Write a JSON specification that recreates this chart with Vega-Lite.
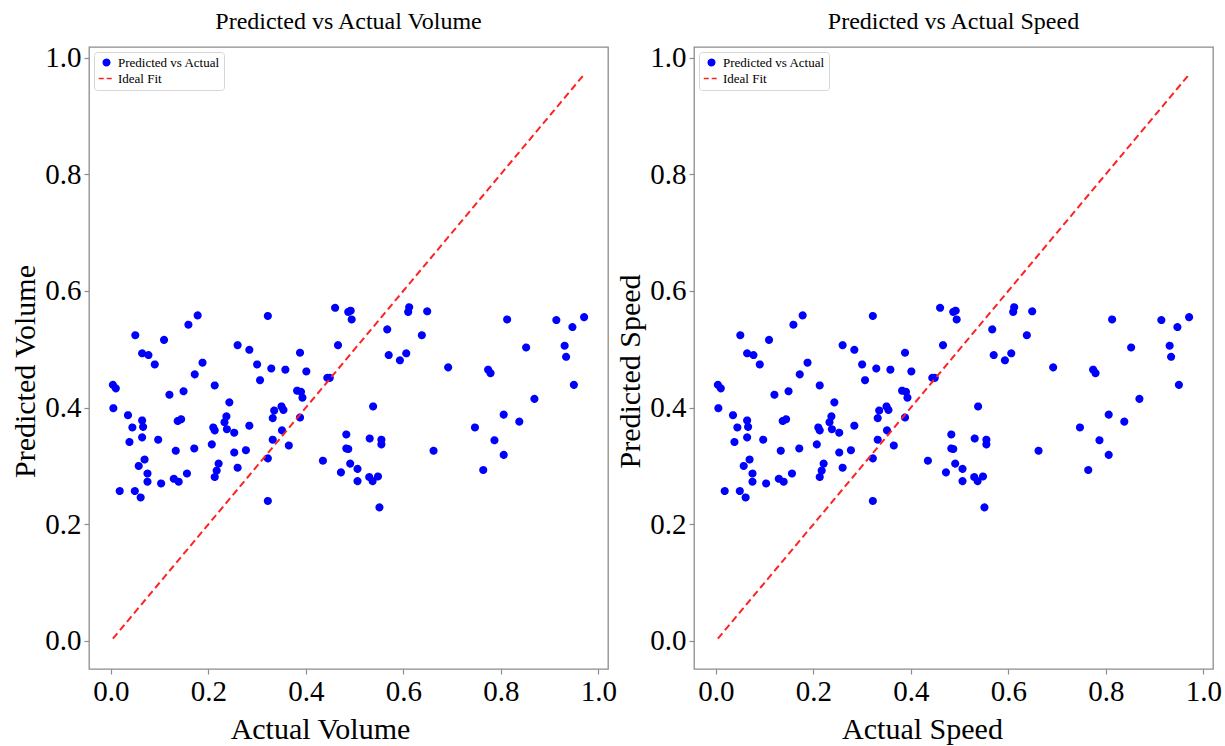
{
  "$schema": "https://vega.github.io/schema/vega-lite/v6.json",
  "background": "white",
  "padding": {"left": 10, "top": 8, "right": 5, "bottom": 5},
  "spacing": 86,
  "bounds": "flush",
  "datasets": {
    "pts": [
      {"actual": 0.178, "predicted": 0.558, "series": "Predicted vs Actual"},
      {"actual": 0.159, "predicted": 0.542, "series": "Predicted vs Actual"},
      {"actual": 0.050, "predicted": 0.524, "series": "Predicted vs Actual"},
      {"actual": 0.109, "predicted": 0.516, "series": "Predicted vs Actual"},
      {"actual": 0.064, "predicted": 0.493, "series": "Predicted vs Actual"},
      {"actual": 0.077, "predicted": 0.490, "series": "Predicted vs Actual"},
      {"actual": 0.090, "predicted": 0.474, "series": "Predicted vs Actual"},
      {"actual": 0.188, "predicted": 0.477, "series": "Predicted vs Actual"},
      {"actual": 0.172, "predicted": 0.457, "series": "Predicted vs Actual"},
      {"actual": 0.004, "predicted": 0.439, "series": "Predicted vs Actual"},
      {"actual": 0.010, "predicted": 0.433, "series": "Predicted vs Actual"},
      {"actual": 0.120, "predicted": 0.422, "series": "Predicted vs Actual"},
      {"actual": 0.149, "predicted": 0.428, "series": "Predicted vs Actual"},
      {"actual": 0.213, "predicted": 0.438, "series": "Predicted vs Actual"},
      {"actual": 0.005, "predicted": 0.399, "series": "Predicted vs Actual"},
      {"actual": 0.035, "predicted": 0.387, "series": "Predicted vs Actual"},
      {"actual": 0.064, "predicted": 0.378, "series": "Predicted vs Actual"},
      {"actual": 0.044, "predicted": 0.366, "series": "Predicted vs Actual"},
      {"actual": 0.066, "predicted": 0.367, "series": "Predicted vs Actual"},
      {"actual": 0.038, "predicted": 0.341, "series": "Predicted vs Actual"},
      {"actual": 0.064, "predicted": 0.349, "series": "Predicted vs Actual"},
      {"actual": 0.097, "predicted": 0.345, "series": "Predicted vs Actual"},
      {"actual": 0.137, "predicted": 0.377, "series": "Predicted vs Actual"},
      {"actual": 0.144, "predicted": 0.380, "series": "Predicted vs Actual"},
      {"actual": 0.243, "predicted": 0.409, "series": "Predicted vs Actual"},
      {"actual": 0.237, "predicted": 0.385, "series": "Predicted vs Actual"},
      {"actual": 0.233, "predicted": 0.375, "series": "Predicted vs Actual"},
      {"actual": 0.238, "predicted": 0.363, "series": "Predicted vs Actual"},
      {"actual": 0.210, "predicted": 0.366, "series": "Predicted vs Actual"},
      {"actual": 0.213, "predicted": 0.361, "series": "Predicted vs Actual"},
      {"actual": 0.253, "predicted": 0.357, "series": "Predicted vs Actual"},
      {"actual": 0.284, "predicted": 0.369, "series": "Predicted vs Actual"},
      {"actual": 0.207, "predicted": 0.337, "series": "Predicted vs Actual"},
      {"actual": 0.171, "predicted": 0.330, "series": "Predicted vs Actual"},
      {"actual": 0.133, "predicted": 0.326, "series": "Predicted vs Actual"},
      {"actual": 0.253, "predicted": 0.323, "series": "Predicted vs Actual"},
      {"actual": 0.277, "predicted": 0.327, "series": "Predicted vs Actual"},
      {"actual": 0.069, "predicted": 0.311, "series": "Predicted vs Actual"},
      {"actual": 0.057, "predicted": 0.300, "series": "Predicted vs Actual"},
      {"actual": 0.075, "predicted": 0.287, "series": "Predicted vs Actual"},
      {"actual": 0.075, "predicted": 0.273, "series": "Predicted vs Actual"},
      {"actual": 0.103, "predicted": 0.270, "series": "Predicted vs Actual"},
      {"actual": 0.129, "predicted": 0.278, "series": "Predicted vs Actual"},
      {"actual": 0.139, "predicted": 0.273, "series": "Predicted vs Actual"},
      {"actual": 0.156, "predicted": 0.287, "series": "Predicted vs Actual"},
      {"actual": 0.221, "predicted": 0.304, "series": "Predicted vs Actual"},
      {"actual": 0.217, "predicted": 0.292, "series": "Predicted vs Actual"},
      {"actual": 0.213, "predicted": 0.281, "series": "Predicted vs Actual"},
      {"actual": 0.260, "predicted": 0.297, "series": "Predicted vs Actual"},
      {"actual": 0.018, "predicted": 0.257, "series": "Predicted vs Actual"},
      {"actual": 0.049, "predicted": 0.257, "series": "Predicted vs Actual"},
      {"actual": 0.061, "predicted": 0.246, "series": "Predicted vs Actual"},
      {"actual": 0.260, "predicted": 0.507, "series": "Predicted vs Actual"},
      {"actual": 0.284, "predicted": 0.499, "series": "Predicted vs Actual"},
      {"actual": 0.300, "predicted": 0.474, "series": "Predicted vs Actual"},
      {"actual": 0.306, "predicted": 0.447, "series": "Predicted vs Actual"},
      {"actual": 0.322, "predicted": 0.557, "series": "Predicted vs Actual"},
      {"actual": 0.460, "predicted": 0.571, "series": "Predicted vs Actual"},
      {"actual": 0.487, "predicted": 0.564, "series": "Predicted vs Actual"},
      {"actual": 0.492, "predicted": 0.566, "series": "Predicted vs Actual"},
      {"actual": 0.494, "predicted": 0.551, "series": "Predicted vs Actual"},
      {"actual": 0.612, "predicted": 0.572, "series": "Predicted vs Actual"},
      {"actual": 0.610, "predicted": 0.564, "series": "Predicted vs Actual"},
      {"actual": 0.649, "predicted": 0.565, "series": "Predicted vs Actual"},
      {"actual": 0.567, "predicted": 0.534, "series": "Predicted vs Actual"},
      {"actual": 0.638, "predicted": 0.524, "series": "Predicted vs Actual"},
      {"actual": 0.388, "predicted": 0.494, "series": "Predicted vs Actual"},
      {"actual": 0.466, "predicted": 0.507, "series": "Predicted vs Actual"},
      {"actual": 0.570, "predicted": 0.490, "series": "Predicted vs Actual"},
      {"actual": 0.593, "predicted": 0.481, "series": "Predicted vs Actual"},
      {"actual": 0.606, "predicted": 0.493, "series": "Predicted vs Actual"},
      {"actual": 0.329, "predicted": 0.467, "series": "Predicted vs Actual"},
      {"actual": 0.358, "predicted": 0.465, "series": "Predicted vs Actual"},
      {"actual": 0.401, "predicted": 0.462, "series": "Predicted vs Actual"},
      {"actual": 0.444, "predicted": 0.451, "series": "Predicted vs Actual"},
      {"actual": 0.449, "predicted": 0.451, "series": "Predicted vs Actual"},
      {"actual": 0.382, "predicted": 0.429, "series": "Predicted vs Actual"},
      {"actual": 0.390, "predicted": 0.427, "series": "Predicted vs Actual"},
      {"actual": 0.393, "predicted": 0.417, "series": "Predicted vs Actual"},
      {"actual": 0.335, "predicted": 0.395, "series": "Predicted vs Actual"},
      {"actual": 0.350, "predicted": 0.402, "series": "Predicted vs Actual"},
      {"actual": 0.354, "predicted": 0.396, "series": "Predicted vs Actual"},
      {"actual": 0.332, "predicted": 0.382, "series": "Predicted vs Actual"},
      {"actual": 0.388, "predicted": 0.383, "series": "Predicted vs Actual"},
      {"actual": 0.351, "predicted": 0.361, "series": "Predicted vs Actual"},
      {"actual": 0.332, "predicted": 0.345, "series": "Predicted vs Actual"},
      {"actual": 0.365, "predicted": 0.335, "series": "Predicted vs Actual"},
      {"actual": 0.322, "predicted": 0.313, "series": "Predicted vs Actual"},
      {"actual": 0.322, "predicted": 0.240, "series": "Predicted vs Actual"},
      {"actual": 0.538, "predicted": 0.402, "series": "Predicted vs Actual"},
      {"actual": 0.483, "predicted": 0.354, "series": "Predicted vs Actual"},
      {"actual": 0.531, "predicted": 0.347, "series": "Predicted vs Actual"},
      {"actual": 0.555, "predicted": 0.345, "series": "Predicted vs Actual"},
      {"actual": 0.555, "predicted": 0.337, "series": "Predicted vs Actual"},
      {"actual": 0.483, "predicted": 0.330, "series": "Predicted vs Actual"},
      {"actual": 0.487, "predicted": 0.329, "series": "Predicted vs Actual"},
      {"actual": 0.435, "predicted": 0.309, "series": "Predicted vs Actual"},
      {"actual": 0.491, "predicted": 0.304, "series": "Predicted vs Actual"},
      {"actual": 0.506, "predicted": 0.295, "series": "Predicted vs Actual"},
      {"actual": 0.472, "predicted": 0.289, "series": "Predicted vs Actual"},
      {"actual": 0.506, "predicted": 0.274, "series": "Predicted vs Actual"},
      {"actual": 0.530, "predicted": 0.281, "series": "Predicted vs Actual"},
      {"actual": 0.537, "predicted": 0.274, "series": "Predicted vs Actual"},
      {"actual": 0.548, "predicted": 0.282, "series": "Predicted vs Actual"},
      {"actual": 0.551, "predicted": 0.229, "series": "Predicted vs Actual"},
      {"actual": 0.813, "predicted": 0.551, "series": "Predicted vs Actual"},
      {"actual": 0.914, "predicted": 0.550, "series": "Predicted vs Actual"},
      {"actual": 0.947, "predicted": 0.538, "series": "Predicted vs Actual"},
      {"actual": 0.971, "predicted": 0.555, "series": "Predicted vs Actual"},
      {"actual": 0.852, "predicted": 0.503, "series": "Predicted vs Actual"},
      {"actual": 0.931, "predicted": 0.506, "series": "Predicted vs Actual"},
      {"actual": 0.934, "predicted": 0.487, "series": "Predicted vs Actual"},
      {"actual": 0.692, "predicted": 0.469, "series": "Predicted vs Actual"},
      {"actual": 0.774, "predicted": 0.465, "series": "Predicted vs Actual"},
      {"actual": 0.779, "predicted": 0.459, "series": "Predicted vs Actual"},
      {"actual": 0.950, "predicted": 0.439, "series": "Predicted vs Actual"},
      {"actual": 0.869, "predicted": 0.415, "series": "Predicted vs Actual"},
      {"actual": 0.806, "predicted": 0.388, "series": "Predicted vs Actual"},
      {"actual": 0.838, "predicted": 0.376, "series": "Predicted vs Actual"},
      {"actual": 0.747, "predicted": 0.366, "series": "Predicted vs Actual"},
      {"actual": 0.787, "predicted": 0.344, "series": "Predicted vs Actual"},
      {"actual": 0.806, "predicted": 0.319, "series": "Predicted vs Actual"},
      {"actual": 0.764, "predicted": 0.293, "series": "Predicted vs Actual"},
      {"actual": 0.662, "predicted": 0.326, "series": "Predicted vs Actual"}
    ],
    "fit": [
      {"actual": 0.004, "predicted": 0.004, "series": "Ideal Fit"},
      {"actual": 0.971, "predicted": 0.971, "series": "Ideal Fit"}
    ]
  },
  "hconcat": [
    {
      "width": 519,
      "height": 622,
      "title": {"text": "Predicted vs Actual Volume"},
      "encoding": {
        "x": {"field": "actual", "type": "quantitative", "scale": {"domain": [-0.045, 1.02], "nice": false, "zero": false}, "axis": {"title": "Actual Volume", "values": [0, 0.2, 0.4, 0.6, 0.8, 1.0], "format": ".1f", "titleX": 231, "titlePadding": 8}},
        "y": {"field": "predicted", "type": "quantitative", "scale": {"domain": [-0.048, 1.018], "nice": false, "zero": false}, "axis": {"title": "Predicted Volume", "values": [0, 0.2, 0.4, 0.6, 0.8, 1.0], "format": ".1f", "titleY": 324}}
      },
      "layer": [
        {
          "data": {"name": "pts"},
          "mark": {"type": "point", "filled": true, "strokeWidth": 1.6, "opacity": 1},
          "encoding": {
            "fill": {"field": "series", "type": "nominal", "scale": {"domain": ["Predicted vs Actual", "Ideal Fit"], "range": ["#0000ff", "#ff2222"]},
              "legend": {"title": null, "orient": "top-left", "offset": 5, "fillColor": "white", "strokeColor": "#d6d6d6", "cornerRadius": 3, "padding": 4, "labelFont": "Liberation Serif", "labelFontSize": 13, "labelColor": "#000000", "rowPadding": 0, "labelOffset": 3}},
            "stroke": {"field": "series", "type": "nominal", "scale": {"domain": ["Predicted vs Actual", "Ideal Fit"], "range": ["#0000ff", "#ff2222"]}, "legend": {"title": null}},
            "shape": {"field": "series", "type": "nominal", "scale": {"domain": ["Predicted vs Actual", "Ideal Fit"], "range": ["circle", "stroke"]}, "legend": {"title": null}},
            "strokeDash": {"field": "series", "type": "nominal", "scale": {"domain": ["Predicted vs Actual", "Ideal Fit"], "range": [[1, 0], [5, 3]]}, "legend": {"title": null}},
            "size": {"field": "series", "type": "nominal", "scale": {"domain": ["Predicted vs Actual", "Ideal Fit"], "range": [42, 240]}, "legend": {"title": null}}
          }
        },
        {
          "data": {"name": "fit"},
          "mark": {"type": "line", "strokeDash": [7, 4], "strokeWidth": 2, "color": "#ff2222"},
          "encoding": {}
        }
      ]
    },
    {
      "width": 519,
      "height": 622,
      "title": {"text": "Predicted vs Actual Speed"},
      "encoding": {
        "x": {"field": "actual", "type": "quantitative", "scale": {"domain": [-0.045, 1.02], "nice": false, "zero": false}, "axis": {"title": "Actual Speed", "values": [0, 0.2, 0.4, 0.6, 0.8, 1.0], "format": ".1f", "titleX": 228, "titlePadding": 8}},
        "y": {"field": "predicted", "type": "quantitative", "scale": {"domain": [-0.048, 1.018], "nice": false, "zero": false}, "axis": {"title": "Predicted Speed", "values": [0, 0.2, 0.4, 0.6, 0.8, 1.0], "format": ".1f", "titleY": 324}}
      },
      "layer": [
        {
          "data": {"name": "pts"},
          "mark": {"type": "point", "filled": true, "strokeWidth": 1.6, "opacity": 1},
          "encoding": {
            "fill": {"field": "series", "type": "nominal", "scale": {"domain": ["Predicted vs Actual", "Ideal Fit"], "range": ["#0000ff", "#ff2222"]},
              "legend": {"title": null, "orient": "top-left", "offset": 5, "fillColor": "white", "strokeColor": "#d6d6d6", "cornerRadius": 3, "padding": 4, "labelFont": "Liberation Serif", "labelFontSize": 13, "labelColor": "#000000", "rowPadding": 0, "labelOffset": 3}},
            "stroke": {"field": "series", "type": "nominal", "scale": {"domain": ["Predicted vs Actual", "Ideal Fit"], "range": ["#0000ff", "#ff2222"]}, "legend": {"title": null}},
            "shape": {"field": "series", "type": "nominal", "scale": {"domain": ["Predicted vs Actual", "Ideal Fit"], "range": ["circle", "stroke"]}, "legend": {"title": null}},
            "strokeDash": {"field": "series", "type": "nominal", "scale": {"domain": ["Predicted vs Actual", "Ideal Fit"], "range": [[1, 0], [5, 3]]}, "legend": {"title": null}},
            "size": {"field": "series", "type": "nominal", "scale": {"domain": ["Predicted vs Actual", "Ideal Fit"], "range": [42, 240]}, "legend": {"title": null}}
          }
        },
        {
          "data": {"name": "fit"},
          "mark": {"type": "line", "strokeDash": [7, 4], "strokeWidth": 2, "color": "#ff2222"},
          "encoding": {}
        }
      ]
    }
  ],
  "resolve": {
    "scale": {"fill": "independent", "stroke": "independent", "shape": "independent", "strokeDash": "independent", "size": "independent", "x": "independent", "y": "independent"},
    "legend": {"fill": "independent", "stroke": "independent", "shape": "independent", "strokeDash": "independent", "size": "independent"},
    "axis": {"x": "independent", "y": "independent"}
  },
  "config": {
    "view": {"stroke": "#8c8c8c", "strokeWidth": 1.3},
    "title": {"font": "Liberation Serif", "fontSize": 24, "fontWeight": "normal", "color": "#000000", "offset": 10, "anchor": "middle"},
    "axis": {"grid": false, "domain": false, "ticks": true, "tickColor": "#8c8c8c", "tickSize": 5, "tickWidth": 1.2,
      "labelFont": "Liberation Serif", "labelFontSize": 29, "labelColor": "#000000", "labelPadding": 3,
      "titleFont": "Liberation Serif", "titleFontSize": 30, "titleFontWeight": "normal", "titleColor": "#000000", "titlePadding": 4}
  }
}
